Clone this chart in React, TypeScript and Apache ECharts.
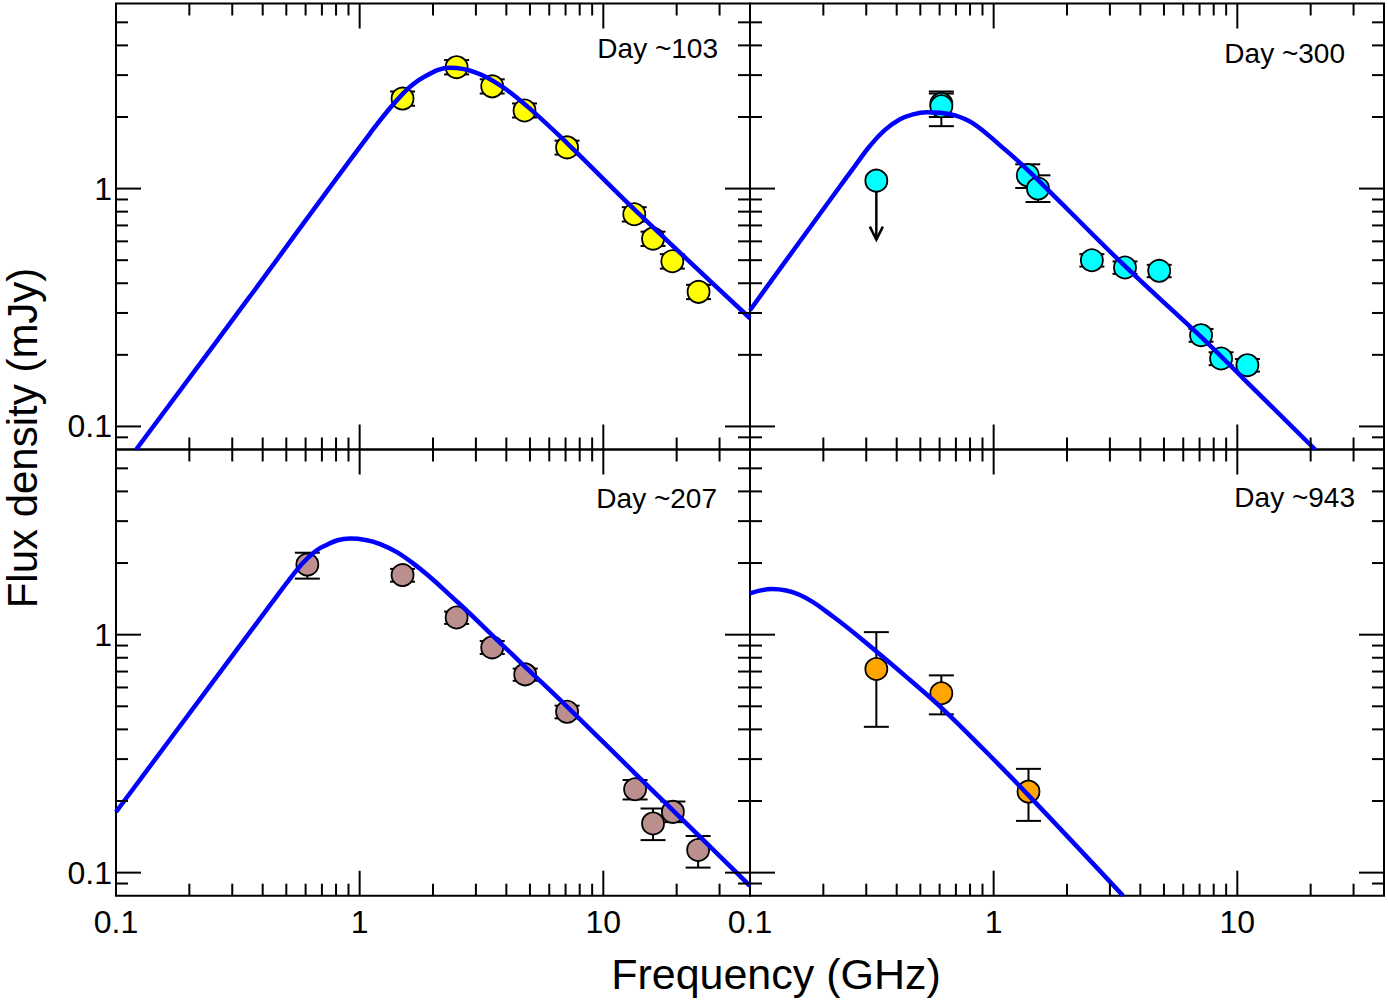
import React, { useEffect, useRef } from 'react';
import * as echarts from 'echarts';

const FONT = '"Liberation Sans", Arial, Helvetica, sans-serif';

// ---- Day ~103 (top left) ----
const freq103 = [1.5, 2.5, 3.5, 4.75, 7.1, 13.4, 16.0, 19.2, 24.6];
const flux103 = [2.39, 3.24, 2.69, 2.13, 1.49, 0.78, 0.616, 0.495, 0.368];
const lo103 = [2.23, 3.02, 2.51, 1.99, 1.39, 0.727, 0.574, 0.461, 0.343];
const hi103 = [2.56, 3.47, 2.88, 2.28, 1.59, 0.835, 0.659, 0.53, 0.394];
const modelFreq103 = [0.121, 0.355, 1.104, 1.509, 1.858, 2.353, 2.981, 3.776, 4.874, 7.114, 13.41, 40];
const modelFlux103 = [0.08, 0.3528, 1.708, 2.514, 2.964, 3.218, 3.081, 2.717, 2.217, 1.55, 0.818, 0.285];

// ---- Day ~300 (top right) ----
const freq300 = [0.61, 0.61, 1.38, 1.52, 2.53, 3.46, 4.78, 7.1, 8.58, 11.0];
const flux300 = [2.27, 2.22, 1.137, 1.0, 0.5, 0.466, 0.451, 0.242, 0.193, 0.181];
const lo300 = [2.0, 1.83, 1.006, 0.878, 0.47, 0.438, 0.424, 0.227, 0.181, 0.17];
const hi300 = [2.56, 2.51, 1.265, 1.137, 0.53, 0.494, 0.478, 0.257, 0.205, 0.192];
const limitFreq300 = [0.33];
const limitFlux300 = [1.08];
const limitArrowTo300 = [0.61];
const modelFreq300 = [0.1, 0.1604, 0.2342, 0.2698, 0.3109, 0.3582, 0.4128, 0.4668, 0.533, 0.6026, 0.6944, 0.8231, 1.0624, 1.3841, 3.463, 7.1, 10.59, 20.86];
const modelFlux300 = [0.308, 0.6006, 1.0225, 1.247, 1.513, 1.766, 1.955, 2.052, 2.092, 2.082, 2.032, 1.881, 1.52, 1.194, 0.4716, 0.2379, 0.159, 0.08];

// ---- Day ~207 (bottom left) ----
const freq207 = [0.61, 1.5, 2.5, 3.5, 4.78, 7.1, 13.5, 16.0, 19.3, 24.5];
const flux207 = [1.97, 1.78, 1.18, 0.884, 0.681, 0.474, 0.224, 0.161, 0.18, 0.1245];
const lo207 = [1.72, 1.67, 1.11, 0.83, 0.64, 0.445, 0.203, 0.137, 0.163, 0.105];
const hi207 = [2.21, 1.89, 1.25, 0.94, 0.72, 0.503, 0.245, 0.186, 0.199, 0.1425];
const modelFreq207 = [0.1, 0.2213, 0.4289, 0.5434, 0.6087, 0.7081, 0.9141, 1.214, 1.658, 2.514, 3.67, 4.78, 7.114, 13.52, 24.55, 40];
const modelFlux207 = [0.1798, 0.5364, 1.331, 1.8323, 2.088, 2.346, 2.539, 2.403, 1.993, 1.375, 0.949, 0.733, 0.4977, 0.2609, 0.1439, 0.0879];

// ---- Day ~943 (bottom right) ----
const freq943 = [0.33, 0.61, 1.39];
const flux943 = [0.717, 0.567, 0.219];
const lo943 = [0.41, 0.4625, 0.165];
const hi943 = [1.025, 0.6745, 0.273];
const modelFreq943 = [0.1, 0.1228, 0.1604, 0.2198, 0.3312, 0.4537, 0.6124, 0.907, 1.388, 3.398];
const modelFlux943 = [1.491, 1.554, 1.467, 1.189, 0.8475, 0.6445, 0.4914, 0.3307, 0.2118, 0.08];

// ---- axes ----
const xRange = [0.1, 40];
const yRange = [0.08, 6];
const xMajorTicks = [1, 10];
const xMinorTicks = [0.2, 0.3, 0.4, 0.5, 0.6, 0.7, 0.8, 0.9, 2, 3, 4, 5, 6, 7, 8, 9, 20, 30];
const yMajorTicks = [0.1, 1];
const yMinorTicks = [0.09, 0.2, 0.3, 0.4, 0.5, 0.6, 0.7, 0.8, 0.9, 2, 3, 4, 5];
const xTickLabels = [0.1, 1, 10];
const yTickLabels = [0.1, 1];

const zip = (a: number[], b: number[]) => a.map((v, i) => [v, b[i]]);
const zip3 = (a: number[], b: number[], c: number[]) => a.map((v, i) => [v, b[i], c[i]]);

const panels = [
  { label: 'Day ~103', color: '#ffff00', freq: freq103, flux: flux103, lo: lo103, hi: hi103,
    mf: modelFreq103, mF: modelFlux103, grid: { left: 116, top: 3.5, width: 634, height: 446 },
    labelX: 718, labelY: 48, showX: false, showY: true, limits: null as null | number[][] },
  { label: 'Day ~300', color: '#00ffff', freq: freq300, flux: flux300, lo: lo300, hi: hi300,
    mf: modelFreq300, mF: modelFlux300, grid: { left: 750, top: 3.5, width: 634, height: 446 },
    labelX: 1345, labelY: 53, showX: false, showY: false,
    limits: zip3(limitFreq300, limitFlux300, limitArrowTo300) },
  { label: 'Day ~207', color: '#bc8f8f', freq: freq207, flux: flux207, lo: lo207, hi: hi207,
    mf: modelFreq207, mF: modelFlux207, grid: { left: 116, top: 449.5, width: 634, height: 446.2 },
    labelX: 717, labelY: 498, showX: true, showY: true, limits: null },
  { label: 'Day ~943', color: '#ffa500', freq: freq943, flux: flux943, lo: lo943, hi: hi943,
    mf: modelFreq943, mF: modelFlux943, grid: { left: 750, top: 449.5, width: 634, height: 446.2 },
    labelX: 1355, labelY: 497, showX: true, showY: false, limits: null },
];

const near = (v: number, list: number[]) => list.some((t) => Math.abs(Math.log10(v) - Math.log10(t)) < 1e-6);
const fmt = (list: number[]) => (v: number) => (near(v, list) ? String(Number(v.toPrecision(2))) : '');

const BLACK = '#000000';

function tickSeries(i: number, dir: 'x' | 'y') {
  const data = dir === 'x'
    ? [...xMinorTicks.map((v) => [v, 1, 0]), ...xMajorTicks.map((v) => [v, 1, 1])]
    : [...yMinorTicks.map((v) => [1, v, 0]), ...yMajorTicks.map((v) => [1, v, 1])];
  return {
    type: 'custom',
    xAxisIndex: i,
    yAxisIndex: i,
    silent: true,
    z: 6,
    encode: { x: 0, y: 1 },
    data,
    renderItem: (params: any, api: any) => {
      const cs = params.coordSys;
      const len = api.value(2) ? 25 : 12;
      const p = api.coord([api.value(0), api.value(1)]);
      const style = { stroke: BLACK, lineWidth: 2 };
      if (dir === 'x') {
        const x = p[0];
        return {
          type: 'group',
          children: [
            { type: 'line', shape: { x1: x, y1: cs.y + cs.height, x2: x, y2: cs.y + cs.height - len }, style },
            { type: 'line', shape: { x1: x, y1: cs.y, x2: x, y2: cs.y + len }, style },
          ],
        };
      }
      const y = p[1];
      return {
        type: 'group',
        children: [
          { type: 'line', shape: { x1: cs.x, y1: y, x2: cs.x + len, y2: y }, style },
          { type: 'line', shape: { x1: cs.x + cs.width, y1: y, x2: cs.x + cs.width - len, y2: y }, style },
        ],
      };
    },
  };
}

function errorSeries(i: number, freq: number[], lo: number[], hi: number[]) {
  return {
    type: 'custom',
    xAxisIndex: i,
    yAxisIndex: i,
    silent: true,
    z: 2,
    dimensions: ['f', 'lo', 'hi'],
    encode: { x: 0, y: [1, 2] },
    data: zip3(freq, lo, hi),
    renderItem: (params: any, api: any) => {
      const a = api.coord([api.value(0), api.value(1)]);
      const b = api.coord([api.value(0), api.value(2)]);
      const hw = 12.5;
      const style = { stroke: BLACK, lineWidth: 2 };
      return {
        type: 'group',
        children: [
          { type: 'line', shape: { x1: a[0], y1: a[1], x2: b[0], y2: b[1] }, style },
          { type: 'line', shape: { x1: a[0] - hw, y1: a[1], x2: a[0] + hw, y2: a[1] }, style },
          { type: 'line', shape: { x1: b[0] - hw, y1: b[1], x2: b[0] + hw, y2: b[1] }, style },
        ],
      };
    },
  };
}

function limitSeries(i: number, rows: number[][]) {
  return {
    type: 'custom',
    xAxisIndex: i,
    yAxisIndex: i,
    silent: true,
    z: 2,
    dimensions: ['f', 'flux', 'to'],
    encode: { x: 0, y: [1, 2] },
    data: rows,
    renderItem: (params: any, api: any) => {
      const a = api.coord([api.value(0), api.value(1)]);
      const b = api.coord([api.value(0), api.value(2)]);
      const style = { stroke: BLACK, lineWidth: 2.5, fill: 'none' };
      return {
        type: 'group',
        children: [
          { type: 'line', shape: { x1: a[0], y1: a[1], x2: b[0], y2: b[1] }, style },
          {
            type: 'polyline',
            shape: { points: [[b[0] - 6.5, b[1] - 13], [b[0], b[1]], [b[0] + 6.5, b[1] - 13]] },
            style,
          },
        ],
      };
    },
  };
}

export default function App() {
  const ref = useRef<HTMLDivElement>(null);

  useEffect(() => {
    if (!ref.current) return;
    const chart = echarts.init(ref.current, null, { renderer: 'svg' });

    const series: any[] = [];
    panels.forEach((p, i) => {
      series.push(errorSeries(i, p.freq, p.lo, p.hi));
      if (p.limits) series.push(limitSeries(i, p.limits));
      series.push({
        type: 'scatter',
        xAxisIndex: i,
        yAxisIndex: i,
        z: 3,
        symbol: 'circle',
        symbolSize: 22,
        itemStyle: { color: p.color, borderColor: BLACK, borderWidth: 1.8, opacity: 1 },
        data: zip(p.freq, p.flux),
      });
      if (p.limits) {
        series.push({
          type: 'scatter',
          xAxisIndex: i,
          yAxisIndex: i,
          z: 3,
          symbol: 'circle',
          symbolSize: 22,
          itemStyle: { color: p.color, borderColor: BLACK, borderWidth: 1.8, opacity: 1 },
          data: p.limits.map((r) => [r[0], r[1]]),
        });
      }
      series.push({
        type: 'line',
        xAxisIndex: i,
        yAxisIndex: i,
        z: 4,
        showSymbol: false,
        symbol: 'none',
        smooth: 0.4,
        clip: true,
        lineStyle: { color: '#0000ff', width: 4.5 },
        data: zip(p.mf, p.mF),
      });
      series.push(tickSeries(i, 'x'));
      series.push(tickSeries(i, 'y'));
    });

    const option: any = {
      animation: false,
      backgroundColor: '#ffffff',
      grid: panels.map((p) => ({
        ...p.grid,
        show: true,
        borderColor: BLACK,
        borderWidth: 2,
        backgroundColor: 'transparent',
        containLabel: false,
      })),
      xAxis: panels.map((p, i) => ({
        type: 'log',
        logBase: 10,
        gridIndex: i,
        min: xRange[0],
        max: xRange[1],
        axisLine: { show: false },
        axisTick: { show: false },
        splitLine: { show: false },
        axisLabel: {
          show: p.showX,
          margin: 10,
          color: BLACK,
          fontFamily: FONT,
          fontSize: 32,
          formatter: fmt(xTickLabels),
        },
      })),
      yAxis: panels.map((p, i) => ({
        type: 'log',
        logBase: 10,
        gridIndex: i,
        min: yRange[0],
        max: yRange[1],
        axisLine: { show: false },
        axisTick: { show: false },
        splitLine: { show: false },
        axisLabel: {
          show: p.showY,
          margin: 4,
          color: BLACK,
          fontFamily: FONT,
          fontSize: 32,
          formatter: fmt(yTickLabels),
        },
      })),
      graphic: [
        ...panels.map((p) => ({
          type: 'text',
          x: p.labelX,
          y: p.labelY,
          z: 10,
          style: {
            text: p.label,
            fill: BLACK,
            font: `28px ${FONT}`,
            align: 'right',
            verticalAlign: 'middle',
            textAlign: 'right',
            textVerticalAlign: 'middle',
          },
        })),
        {
          type: 'text',
          x: 776,
          y: 974,
          z: 10,
          style: {
            text: 'Frequency (GHz)',
            fill: BLACK,
            font: `43px ${FONT}`,
            align: 'center',
            verticalAlign: 'middle',
            textAlign: 'center',
            textVerticalAlign: 'middle',
          },
        },
        {
          type: 'text',
          x: 22,
          y: 438,
          rotation: Math.PI / 2,
          z: 10,
          style: {
            text: 'Flux density (mJy)',
            fill: BLACK,
            font: `42px ${FONT}`,
            align: 'center',
            verticalAlign: 'middle',
            textAlign: 'center',
            textVerticalAlign: 'middle',
          },
        },
      ],
      series,
    };

    chart.setOption(option);
    return () => chart.dispose();
  }, []);

  return (
    <div
      ref={ref}
      style={{ position: 'absolute', left: 0, top: 0, width: 1388, height: 1000, background: '#fff' }}
    />
  );
}
